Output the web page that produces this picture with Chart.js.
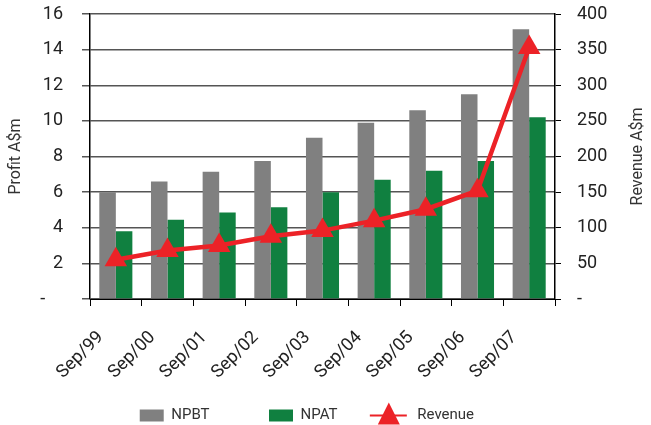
<!DOCTYPE html>
<html>
<head>
<meta charset="utf-8">
<script src="https://cdn.jsdelivr.net/npm/chart.js@4"></script>
<style>
  html, body { margin: 0; padding: 0; background: #fff; }
  #wrap { width: 651px; height: 425px; position: relative; }
</style>
</head>
<body>
<div id="wrap"><canvas id="chart"></canvas></div>
<script>
var periods = ['Sep/99', 'Sep/00', 'Sep/01', 'Sep/02', 'Sep/03', 'Sep/04', 'Sep/05', 'Sep/06', 'Sep/07'];
var npbt = [6.0, 6.6, 7.15, 7.75, 9.05, 9.9, 10.6, 11.5, 15.15];
var npat = [3.8, 4.45, 4.85, 5.15, 6.0, 6.7, 7.2, 7.75, 10.2];
var revenue = [55, 68, 75, 88, 96, 110, 126, 152, 353];

var FONT = 'Roboto, "Liberation Sans", sans-serif';
var RED = '#ec2227';

// right axis title reads bottom-to-top like the left one, and the legend
// entry for the line gets a short line through a triangle
var extras = {
  id: 'extras',
  afterDraw(chart) {
    var ctx = chart.ctx;
    var area = chart.chartArea;
    ctx.save();
    ctx.fillStyle = '#333';
    ctx.font = '16px ' + FONT;
    ctx.textAlign = 'center';
    ctx.textBaseline = 'middle';
    ctx.translate(638, (area.top + area.bottom) / 2);
    ctx.rotate(-Math.PI / 2);
    ctx.fillText('Revenue A$m', 0, 0);
    ctx.restore();

    var lg = chart.legend;
    lg.legendItems.forEach(function (item, i) {
      if (item.text.trim() !== 'Revenue') return;
      var hb = lg.legendHitBoxes[i];
      var cx = hb.left + 3, cy = hb.top + hb.height / 2;
      ctx.save();
      ctx.strokeStyle = RED;
      ctx.lineWidth = 2;
      ctx.beginPath();
      ctx.moveTo(cx - 19, cy);
      ctx.lineTo(cx + 18, cy);
      ctx.stroke();
      ctx.fillStyle = RED;
      ctx.beginPath();
      ctx.moveTo(cx, cy - 13);
      ctx.lineTo(cx + 11, cy + 9);
      ctx.lineTo(cx - 11, cy + 9);
      ctx.closePath();
      ctx.fill();
      ctx.restore();
    });
  }
};

// trailing spaces only space the legend entries out like the original
var legendGap = { 'NPBT': '                ', 'NPAT': '             ', 'Revenue': '          ' };

new Chart(document.getElementById('chart'), {
  data: {
    labels: periods,
    datasets: [
      {
        type: 'bar', label: 'NPBT', data: npbt, yAxisID: 'y', order: 1,
        backgroundColor: '#808080', barPercentage: 1, categoryPercentage: 0.64
      },
      {
        type: 'bar', label: 'NPAT', data: npat, yAxisID: 'y', order: 2,
        backgroundColor: '#108040', barPercentage: 1, categoryPercentage: 0.64
      },
      {
        type: 'line', label: 'Revenue', data: revenue, yAxisID: 'y1', order: 0,
        borderColor: RED, backgroundColor: RED, borderWidth: 4.5,
        pointStyle: 'triangle', pointRadius: 13, pointHoverRadius: 13,
        pointBackgroundColor: RED, pointBorderWidth: 0, tension: 0
      }
    ]
  },
  options: {
    responsive: true,
    maintainAspectRatio: false,
    animation: false,
    layout: { padding: { top: 14, left: 0, right: 0, bottom: -8 } },
    scales: {
      x: {
        offset: true,
        grid: { offset: true, drawOnChartArea: false, tickLength: 7, color: '#000', lineWidth: 1 },
        border: { color: '#000', width: 1 },
        ticks: {
          color: '#222', font: { family: FONT, size: 18 },
          maxRotation: 45, minRotation: 45, labelOffset: -15, padding: 21
        },
        afterFit(scale) { scale.height = 109; }
      },
      y: {
        position: 'left', min: 0, max: 16,
        grid: { color: '#555', lineWidth: 1.5, tickLength: 8 },
        border: { color: '#000', width: 1.5 },
        ticks: {
          stepSize: 2, color: '#222', padding: 19, font: { family: FONT, size: 18 },
          callback: function (v) { return v === 0 ? '-    ' : v; }
        },
        title: { display: true, text: 'Profit A$m', color: '#333', font: { family: FONT, size: 16 }, padding: { top: 6, bottom: 0 } },
        afterFit(scale) { scale.width = 90; scale.paddingTop = 0; scale.paddingBottom = 0; }
      },
      y1: {
        position: 'right', min: 0, max: 400,
        grid: { drawOnChartArea: false, color: '#000', tickLength: 6 },
        border: { color: '#000', width: 1.5 },
        ticks: {
          stepSize: 50, color: '#222', padding: 16, font: { family: FONT, size: 18 },
          callback: function (v) { return v === 0 ? '-' : v; }
        },
        afterFit(scale) { scale.width = 96; scale.paddingTop = 0; scale.paddingBottom = 0; }
      }
    },
    plugins: {
      tooltip: { enabled: false },
      legend: {
        position: 'bottom',
        labels: {
          boxWidth: 24, boxHeight: 12, padding: 0, color: '#333',
          font: { family: FONT, size: 15 },
          sort: function (a, b) { return a.datasetIndex - b.datasetIndex; },
          generateLabels: function (chart) {
            var items = Chart.defaults.plugins.legend.labels.generateLabels(chart);
            items.forEach(function (it) {
              it.lineWidth = 0;
              it.strokeStyle = 'rgba(0,0,0,0)';
              if (it.text === 'Revenue') it.fillStyle = 'rgba(0,0,0,0)';
              it.text = it.text + (legendGap[it.text] || '');
            });
            return items;
          }
        }
      }
    }
  },
  plugins: [extras]
});
</script>
</body>
</html>
